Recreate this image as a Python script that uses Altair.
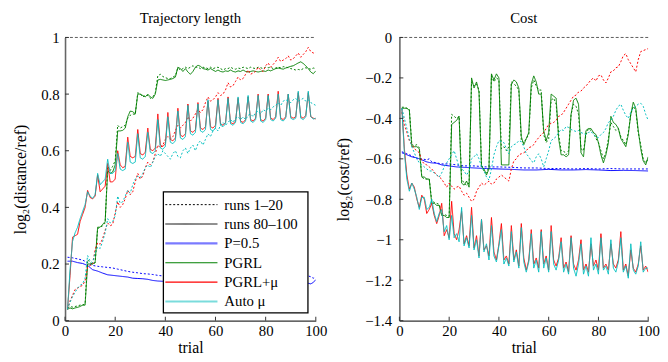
import altair as alt
import pandas as pd

FONT = "Liberation Serif"
TRIALS = list(range(1, 101))
X_TICKS = [0, 20, 40, 60, 80, 100]
LEN_TICKS = [0, 0.2, 0.4, 0.6, 0.8, 1]
COST_TICKS = [-1.4, -1.2, -1, -0.8, -0.6, -0.4, -0.2, 0]

METHODS = ["P=0.5", "PGRL", "PGRL+μ", "Auto μ"]
RUNS = ["runs 1–20", "runs 80–100"]
LEGEND_LABELS = ["runs 1–20", "runs 80–100", "P=0.5", "PGRL", "PGRL+μ", "Auto μ"]

# ---------------- Trajectory length (left) ----------------
LEN_P05_T = [1, 3, 5, 7, 9, 11, 13, 15, 17, 19, 21, 23, 25, 27, 29, 31, 33, 35, 37, 39,
             45, 50, 55, 60, 65, 70, 75, 80, 85, 90, 95, 97, 98, 99, 100]
LEN_P05_FIRST = [0.224, 0.222, 0.218, 0.214, 0.205, 0.195, 0.192, 0.190, 0.188, 0.186,
                 0.182, 0.178, 0.174, 0.171, 0.169, 0.166, 0.165, 0.163, 0.160, 0.158,
                 0.156, 0.155, 0.154, 0.153, 0.152, 0.152, 0.151, 0.151, 0.152, 0.153,
                 0.155, 0.158, 0.155, 0.150, 0.155]
LEN_P05_LAST = [0.210, 0.210, 0.205, 0.202, 0.195, 0.180, 0.175, 0.168, 0.162, 0.160,
                0.158, 0.156, 0.154, 0.150, 0.149, 0.148, 0.146, 0.142, 0.140, 0.139,
                0.137, 0.136, 0.135, 0.135, 0.134, 0.134, 0.133, 0.133, 0.133, 0.133,
                0.134, 0.132, 0.130, 0.135, 0.145]

LEN_PGRL_FIRST = [
    0.045, 0.050, 0.048, 0.050, 0.052, 0.055, 0.055, 0.060, 0.215, 0.205,
    0.200, 0.205, 0.325, 0.330, 0.335, 0.345, 0.545, 0.530, 0.545, 0.565,
    0.690, 0.680, 0.685, 0.690, 0.715, 0.725, 0.730, 0.728, 0.805, 0.800,
    0.790, 0.795, 0.795, 0.785, 0.790, 0.805, 0.865, 0.870, 0.862, 0.858,
    0.855, 0.855, 0.860, 0.865, 0.893, 0.885, 0.890, 0.895, 0.890, 0.895,
    0.900, 0.895, 0.895, 0.890, 0.895, 0.893, 0.890, 0.895, 0.890, 0.893,
    0.895, 0.890, 0.885, 0.890, 0.890, 0.895, 0.890, 0.888, 0.892, 0.890,
    0.895, 0.893, 0.890, 0.895, 0.892, 0.890, 0.895, 0.893, 0.890, 0.895,
    0.893, 0.895, 0.890, 0.892, 0.895, 0.893, 0.897, 0.895, 0.893, 0.890,
    0.888, 0.885, 0.887, 0.885, 0.890, 0.893, 0.890, 0.888, 0.892, 0.890]
LEN_PGRL_LAST = [
    0.040, 0.045, 0.042, 0.045, 0.047, 0.050, 0.055, 0.055, 0.200, 0.200,
    0.200, 0.205, 0.330, 0.330, 0.340, 0.350, 0.530, 0.520, 0.525, 0.550,
    0.670, 0.670, 0.672, 0.680, 0.720, 0.740, 0.738, 0.730, 0.800, 0.800,
    0.795, 0.790, 0.800, 0.790, 0.785, 0.800, 0.850, 0.852, 0.850, 0.848,
    0.850, 0.852, 0.855, 0.860, 0.895, 0.890, 0.880, 0.890, 0.878, 0.870,
    0.880, 0.895, 0.902, 0.898, 0.890, 0.888, 0.885, 0.890, 0.885, 0.880,
    0.885, 0.880, 0.878, 0.882, 0.880, 0.885, 0.880, 0.878, 0.882, 0.880,
    0.885, 0.880, 0.878, 0.880, 0.882, 0.880, 0.878, 0.880, 0.882, 0.880,
    0.885, 0.882, 0.886, 0.890, 0.892, 0.890, 0.888, 0.892, 0.895, 0.898,
    0.900, 0.905, 0.910, 0.914, 0.908, 0.900, 0.890, 0.878, 0.872, 0.882]

LEN_PGRLMU_FIRST = [
    0.040, 0.070, 0.090, 0.110, 0.115, 0.120, 0.125, 0.140, 0.190, 0.195,
    0.200, 0.250, 0.275, 0.270, 0.290, 0.320, 0.345, 0.335, 0.340, 0.380,
    0.420, 0.400, 0.410, 0.430, 0.460, 0.445, 0.455, 0.490, 0.520, 0.500,
    0.510, 0.540, 0.560, 0.550, 0.560, 0.590, 0.620, 0.610, 0.620, 0.640,
    0.650, 0.640, 0.650, 0.670, 0.690, 0.680, 0.690, 0.700, 0.720, 0.705,
    0.715, 0.730, 0.745, 0.735, 0.745, 0.770, 0.790, 0.775, 0.780, 0.790,
    0.805, 0.795, 0.800, 0.815, 0.840, 0.825, 0.830, 0.845, 0.860, 0.850,
    0.855, 0.870, 0.885, 0.870, 0.875, 0.880, 0.895, 0.885, 0.880, 0.900,
    0.910, 0.895, 0.905, 0.915, 0.930, 0.915, 0.920, 0.925, 0.935, 0.920,
    0.925, 0.935, 0.945, 0.930, 0.940, 0.950, 0.965, 0.950, 0.945, 0.948]
LEN_PGRLMU_LAST = [
    0.040, 0.160, 0.295, 0.300, 0.305, 0.350, 0.375, 0.400, 0.460, 0.435,
    0.430, 0.440, 0.515, 0.455, 0.465, 0.475, 0.555, 0.490, 0.490, 0.500,
    0.600, 0.550, 0.540, 0.545, 0.648, 0.580, 0.575, 0.580, 0.675, 0.590,
    0.585, 0.595, 0.680, 0.605, 0.600, 0.610, 0.730, 0.620, 0.615, 0.625,
    0.735, 0.640, 0.635, 0.645, 0.750, 0.655, 0.650, 0.660, 0.765, 0.670,
    0.665, 0.675, 0.770, 0.680, 0.675, 0.685, 0.775, 0.685, 0.680, 0.690,
    0.785, 0.695, 0.690, 0.700, 0.790, 0.700, 0.695, 0.705, 0.785, 0.705,
    0.700, 0.710, 0.790, 0.710, 0.705, 0.715, 0.800, 0.710, 0.705, 0.715,
    0.800, 0.715, 0.710, 0.720, 0.810, 0.715, 0.710, 0.720, 0.800, 0.720,
    0.715, 0.720, 0.805, 0.720, 0.715, 0.725, 0.805, 0.720, 0.715, 0.712]

LEN_AUTOMU_FIRST = [
    0.040, 0.065, 0.085, 0.100, 0.115, 0.125, 0.130, 0.150, 0.230, 0.210,
    0.205, 0.240, 0.260, 0.255, 0.280, 0.310, 0.360, 0.345, 0.350, 0.370,
    0.440, 0.415, 0.420, 0.440, 0.460, 0.450, 0.480, 0.500, 0.510, 0.505,
    0.520, 0.540, 0.550, 0.540, 0.560, 0.580, 0.590, 0.580, 0.600, 0.590,
    0.580, 0.570, 0.590, 0.600, 0.580, 0.575, 0.600, 0.610, 0.590, 0.610,
    0.620, 0.600, 0.625, 0.635, 0.620, 0.640, 0.660, 0.650, 0.670, 0.680,
    0.670, 0.690, 0.700, 0.690, 0.700, 0.710, 0.700, 0.715, 0.720, 0.710,
    0.720, 0.710, 0.725, 0.730, 0.720, 0.735, 0.740, 0.730, 0.745, 0.740,
    0.750, 0.745, 0.755, 0.760, 0.770, 0.760, 0.775, 0.780, 0.775, 0.770,
    0.780, 0.785, 0.775, 0.780, 0.785, 0.775, 0.780, 0.770, 0.765, 0.760]
LEN_AUTOMU_LAST = [
    0.040, 0.180, 0.280, 0.310, 0.330, 0.360, 0.385, 0.410, 0.455, 0.440,
    0.432, 0.445, 0.520, 0.480, 0.490, 0.500, 0.570, 0.520, 0.520, 0.530,
    0.590, 0.535, 0.530, 0.535, 0.630, 0.560, 0.555, 0.560, 0.660, 0.575,
    0.570, 0.580, 0.665, 0.595, 0.590, 0.600, 0.710, 0.610, 0.605, 0.615,
    0.720, 0.630, 0.625, 0.635, 0.740, 0.645, 0.640, 0.650, 0.760, 0.660,
    0.655, 0.665, 0.765, 0.670, 0.665, 0.675, 0.780, 0.675, 0.670, 0.680,
    0.780, 0.690, 0.685, 0.695, 0.785, 0.695, 0.690, 0.700, 0.790, 0.700,
    0.695, 0.705, 0.795, 0.705, 0.700, 0.710, 0.795, 0.705, 0.700, 0.710,
    0.795, 0.710, 0.705, 0.715, 0.800, 0.710, 0.705, 0.715, 0.800, 0.715,
    0.710, 0.715, 0.810, 0.715, 0.710, 0.720, 0.810, 0.720, 0.712, 0.715]

# ---------------- Cost (right) ----------------
COST_P05_T = [1, 3, 5, 7, 9, 11, 12, 13, 15, 17, 20, 23, 26, 30, 35, 40, 45, 50, 55, 60,
              65, 70, 75, 80, 85, 90, 95, 100]
COST_P05_FIRST = [-0.565, -0.575, -0.585, -0.600, -0.600, -0.605, -0.600, -0.615, -0.620, -0.625,
                  -0.625, -0.630, -0.635, -0.635, -0.640, -0.640, -0.642, -0.645, -0.645, -0.648,
                  -0.648, -0.650, -0.648, -0.650, -0.648, -0.650, -0.650, -0.650]
COST_P05_LAST = [-0.570, -0.580, -0.590, -0.595, -0.605, -0.615, -0.618, -0.620, -0.622, -0.630,
                 -0.635, -0.640, -0.642, -0.645, -0.648, -0.650, -0.652, -0.655, -0.655, -0.652,
                 -0.655, -0.655, -0.653, -0.655, -0.658, -0.657, -0.658, -0.660]

COST_PGRL_FIRST = [
    -0.345, -0.345, -0.350, -0.355, -0.530, -0.535, -0.530, -0.545, -0.690, -0.700,
    -0.700, -0.700, -0.810, -0.815, -0.820, -0.825, -0.870, -0.875, -0.880, -0.885,
    -0.380, -0.390, -0.400, -0.390, -0.700, -0.720, -0.730, -0.720, -0.220, -0.240,
    -0.230, -0.260, -0.630, -0.660, -0.670, -0.640, -0.190, -0.220, -0.200, -0.210,
    -0.550, -0.540, -0.560, -0.540, -0.220, -0.230, -0.240, -0.260, -0.510, -0.520,
    -0.500, -0.480, -0.250, -0.210, -0.240, -0.260, -0.260, -0.480, -0.520, -0.500,
    -0.310, -0.300, -0.330, -0.480, -0.560, -0.560, -0.580, -0.560, -0.380, -0.330,
    -0.340, -0.380, -0.550, -0.560, -0.480, -0.450, -0.460, -0.470, -0.500, -0.520,
    -0.560, -0.600, -0.570, -0.500, -0.420, -0.440, -0.460, -0.450, -0.490, -0.510,
    -0.530, -0.470, -0.380, -0.340, -0.360, -0.470, -0.530, -0.600, -0.620, -0.600]
COST_PGRL_LAST = [
    -0.350, -0.350, -0.350, -0.360, -0.540, -0.540, -0.540, -0.550, -0.690, -0.690,
    -0.700, -0.700, -0.820, -0.820, -0.830, -0.830, -0.880, -0.880, -0.890, -0.890,
    -0.430, -0.420, -0.410, -0.390, -0.720, -0.730, -0.710, -0.740, -0.200, -0.250,
    -0.220, -0.270, -0.640, -0.650, -0.680, -0.650, -0.180, -0.210, -0.180, -0.200,
    -0.630, -0.630, -0.630, -0.630, -0.230, -0.210, -0.220, -0.250, -0.490, -0.530,
    -0.500, -0.470, -0.230, -0.190, -0.220, -0.280, -0.280, -0.460, -0.510, -0.470,
    -0.280, -0.290, -0.300, -0.500, -0.580, -0.580, -0.590, -0.580, -0.380, -0.310,
    -0.300, -0.330, -0.570, -0.590, -0.460, -0.450, -0.450, -0.470, -0.480, -0.520,
    -0.580, -0.620, -0.580, -0.520, -0.390, -0.420, -0.430, -0.450, -0.500, -0.520,
    -0.540, -0.480, -0.380, -0.320, -0.350, -0.460, -0.550, -0.610, -0.630, -0.590]

COST_PGRLMU_FIRST = [
    -0.370, -0.430, -0.470, -0.510, -0.530, -0.550, -0.560, -0.570, -0.610, -0.625,
    -0.630, -0.640, -0.650, -0.665, -0.680, -0.690, -0.700, -0.720, -0.740, -0.720,
    -0.735, -0.750, -0.740, -0.735, -0.760, -0.780, -0.770, -0.790, -0.810, -0.800,
    -0.760, -0.740, -0.720, -0.730, -0.720, -0.710, -0.725, -0.720, -0.700, -0.690,
    -0.680, -0.690, -0.700, -0.710, -0.650, -0.610, -0.600, -0.580, -0.575, -0.570,
    -0.560, -0.545, -0.540, -0.530, -0.510, -0.495, -0.480, -0.470, -0.450, -0.430,
    -0.425, -0.420, -0.410, -0.390, -0.385, -0.370, -0.350, -0.330, -0.310, -0.290,
    -0.285, -0.270, -0.265, -0.250, -0.240, -0.225, -0.210, -0.200, -0.215, -0.190,
    -0.185, -0.210, -0.225, -0.200, -0.170, -0.165, -0.150, -0.145, -0.120, -0.090,
    -0.080, -0.110, -0.130, -0.150, -0.170, -0.110, -0.070, -0.065, -0.060, -0.055]
COST_PGRLMU_LAST = [
    -0.350, -0.550, -0.680, -0.750, -0.720, -0.740, -0.800, -0.840, -0.780, -0.800,
    -0.870, -0.850, -0.820, -0.880, -0.920, -0.880, -0.820, -0.980, -0.950, -0.990,
    -0.810, -0.970, -1.000, -0.950, -0.860, -1.020, -0.980, -1.030, -0.840, -1.040,
    -0.980, -1.080, -0.900, -1.050, -1.030, -1.080, -0.890, -1.060, -1.100, -1.020,
    -0.920, -1.100, -1.080, -1.120, -0.930, -1.100, -1.050, -1.130, -0.920, -1.090,
    -1.150, -1.100, -0.950, -1.120, -1.090, -1.140, -0.950, -1.120, -1.080, -1.150,
    -0.930, -1.100, -1.130, -1.090, -0.990, -1.140, -1.110, -1.160, -0.980, -1.120,
    -1.150, -1.100, -1.000, -1.150, -1.120, -1.160, -1.020, -1.130, -1.100, -1.150,
    -0.970, -1.140, -1.120, -1.150, -1.020, -1.120, -1.140, -1.100, -0.960, -1.150,
    -1.120, -1.180, -1.050, -1.140, -1.160, -1.120, -1.030, -1.150, -1.130, -1.160]

COST_AUTOMU_FIRST = [
    -0.350, -0.400, -0.450, -0.500, -0.540, -0.570, -0.600, -0.620, -0.630, -0.640,
    -0.650, -0.660, -0.660, -0.670, -0.680, -0.690, -0.670, -0.640, -0.620, -0.600,
    -0.580, -0.560, -0.600, -0.640, -0.650, -0.660, -0.680, -0.660, -0.600, -0.590,
    -0.575, -0.600, -0.640, -0.660, -0.690, -0.705, -0.650, -0.580, -0.540, -0.510,
    -0.515, -0.520, -0.550, -0.575, -0.540, -0.530, -0.525, -0.510, -0.515, -0.540,
    -0.575, -0.590, -0.610, -0.620, -0.590, -0.575, -0.600, -0.640, -0.600, -0.560,
    -0.510, -0.500, -0.490, -0.470, -0.455, -0.460, -0.440, -0.445, -0.455, -0.460,
    -0.465, -0.460, -0.470, -0.475, -0.480, -0.470, -0.465, -0.480, -0.490, -0.495,
    -0.480, -0.470, -0.450, -0.420, -0.410, -0.390, -0.360, -0.340, -0.330, -0.360,
    -0.385, -0.400, -0.370, -0.350, -0.340, -0.330, -0.325, -0.340, -0.380, -0.410]
COST_AUTOMU_LAST = [
    -0.350, -0.570, -0.700, -0.760, -0.720, -0.750, -0.790, -0.850, -0.790, -0.790,
    -0.850, -0.840, -0.800, -0.870, -0.910, -0.870, -0.850, -0.960, -0.930, -1.000,
    -0.880, -0.990, -0.970, -1.010, -0.840, -1.030, -0.990, -1.040, -0.880, -1.050,
    -1.000, -1.090, -0.900, -1.060, -1.020, -1.100, -0.930, -1.080, -1.110, -1.030,
    -0.950, -1.120, -1.090, -1.130, -0.960, -1.110, -1.060, -1.140, -0.940, -1.110,
    -1.160, -1.110, -0.970, -1.140, -1.100, -1.160, -0.960, -1.140, -1.090, -1.160,
    -0.960, -1.120, -1.150, -1.100, -1.010, -1.160, -1.120, -1.170, -0.990, -1.140,
    -1.180, -1.120, -1.020, -1.170, -1.130, -1.180, -0.990, -1.150, -1.120, -1.170,
    -0.990, -1.150, -1.130, -1.170, -1.000, -1.140, -1.160, -1.110, -0.990, -1.160,
    -1.130, -1.190, -1.020, -1.150, -1.170, -1.130, -1.010, -1.160, -1.140, -1.140]

# ---------------- styles ----------------
COLORS = {"P=0.5": "#0000ff", "PGRL": "#008000", "PGRL+μ": "#ff0000", "Auto μ": "#00bfbf"}
DASHES = {"runs 1–20": [2, 2], "runs 80–100": [1, 0]}
LEGEND_STYLE = {
    "runs 1–20": ("#000000", 1.0, [2, 2]),
    "runs 80–100": ("#000000", 1.0, [1, 0]),
    "P=0.5": ("#7a7aff", 2.2, [1, 0]),
    "PGRL": ("#008000", 1.2, [1, 0]),
    "PGRL+μ": ("#ff0000", 1.2, [1, 0]),
    "Auto μ": ("#7adcdc", 2.2, [1, 0]),
}
H = 288
TICK_FS = 15
TITLE_FS = 16


def make_panel(title, series, ydomain, yticks, ytitle, ref_value, width, legend=False,
               ylabel_pad=6, ytitle_pad=12):
    xs = alt.Scale(domain=[0, 100], nice=False, zero=False)
    ys = alt.Scale(domain=ydomain, nice=False, zero=False)
    xaxis = alt.Axis(values=X_TICKS, title="trial", format=".2~f", tickSize=0, grid=False,
                     labelPadding=3, titlePadding=1, domainColor="#333", domainWidth=1.2,
                     labelFlush=False, labelOverlap=False)
    yaxis = alt.Axis(values=yticks, title=ytitle, format=".2~f", tickSize=0, grid=False,
                     labelPadding=ylabel_pad, titlePadding=ytitle_pad, domainColor="#666",
                     domainWidth=1.6, labelFlush=False, labelOverlap=False)
    X = alt.X("trial:Q", scale=xs, axis=xaxis)
    Y = alt.Y("value:Q", scale=ys, axis=yaxis)

    layers = []
    ref_df = pd.DataFrame({"trial": [0, 100], "value": [ref_value, ref_value]})
    layers.append(alt.Chart(ref_df).mark_line(color="#333333", strokeWidth=0.8,
                                              strokeDash=[3, 2]).encode(x=X, y=Y))
    for xs_, ys_, method, run in series:
        df = pd.DataFrame({"trial": xs_, "value": ys_})
        layers.append(
            alt.Chart(df).mark_line(color=COLORS[method], strokeWidth=1.0,
                                    strokeDash=DASHES[run], clip=True).encode(x=X, y=Y))
    # inward tick marks
    xt = pd.DataFrame({"trial": X_TICKS})
    layers.append(alt.Chart(xt).mark_rule(color="#333", strokeWidth=1).encode(
        x=X, y=alt.value(H), y2=alt.value(H - 4)))
    yt = pd.DataFrame({"value": yticks})
    layers.append(alt.Chart(yt).mark_rule(color="#333", strokeWidth=1).encode(
        y=Y, x=alt.value(0), x2=alt.value(4)))

    if legend:
        one = pd.DataFrame({"a": [0]})
        layers.append(alt.Chart(one).mark_rect(fill="white", stroke="black",
                                               strokeWidth=1.3).encode(
            x=alt.value(100), x2=alt.value(247), y=alt.value(157), y2=alt.value(280)))
        for i, lab in enumerate(LEGEND_LABELS):
            col, wid, dash = LEGEND_STYLE[lab]
            yy = 170 + 19.7 * i
            layers.append(alt.Chart(one).mark_rule(color=col, strokeWidth=wid,
                                                   strokeDash=dash).encode(
                x=alt.value(102), x2=alt.value(155), y=alt.value(yy)))
            layers.append(alt.Chart(one).mark_text(text=lab, font=FONT, fontSize=15,
                                                   align="left", baseline="middle",
                                                   color="black").encode(
                x=alt.value(162), y=alt.value(yy)))

    return alt.layer(*layers).properties(
        width=width, height=H,
        title=alt.TitleParams(title, font=FONT, fontSize=15, fontWeight="normal",
                              color="black", offset=5))


left_series = [
    (LEN_P05_T, LEN_P05_FIRST, "P=0.5", "runs 1–20"),
    (LEN_P05_T, LEN_P05_LAST, "P=0.5", "runs 80–100"),
    (TRIALS, LEN_PGRL_FIRST, "PGRL", "runs 1–20"),
    (TRIALS, LEN_PGRL_LAST, "PGRL", "runs 80–100"),
    (TRIALS, LEN_PGRLMU_FIRST, "PGRL+μ", "runs 1–20"),
    (TRIALS, LEN_PGRLMU_LAST, "PGRL+μ", "runs 80–100"),
    (TRIALS, LEN_AUTOMU_FIRST, "Auto μ", "runs 1–20"),
    (TRIALS, LEN_AUTOMU_LAST, "Auto μ", "runs 80–100"),
]
right_series = [
    (COST_P05_T, COST_P05_FIRST, "P=0.5", "runs 1–20"),
    (COST_P05_T, COST_P05_LAST, "P=0.5", "runs 80–100"),
    (TRIALS, COST_PGRL_FIRST, "PGRL", "runs 1–20"),
    (TRIALS, COST_PGRL_LAST, "PGRL", "runs 80–100"),
    (TRIALS, COST_PGRLMU_FIRST, "PGRL+μ", "runs 1–20"),
    (TRIALS, COST_PGRLMU_LAST, "PGRL+μ", "runs 80–100"),
    (TRIALS, COST_AUTOMU_FIRST, "Auto μ", "runs 1–20"),
    (TRIALS, COST_AUTOMU_LAST, "Auto μ", "runs 80–100"),
]

left = make_panel("Trajectory length", left_series, [0, 1], LEN_TICKS,
                  "log₂(distance/ref)", 1, 255, legend=True)
right = make_panel("Cost", right_series, [-1.4, 0], COST_TICKS,
                   "log₂(cost/ref)", 0, 253, ylabel_pad=8, ytitle_pad=14)

chart = alt.hconcat(left, right, spacing=7).configure_view(stroke=None).configure_axis(
    labelFont=FONT, titleFont=FONT, labelFontSize=TICK_FS, titleFontSize=TITLE_FS,
    titleFontWeight="normal", labelColor="black", titleColor="black"
).properties(padding={"left": 5, "top": 0, "right": 0, "bottom": 0})

chart.save("out.html", embed_options={"renderer": "svg", "actions": False})
